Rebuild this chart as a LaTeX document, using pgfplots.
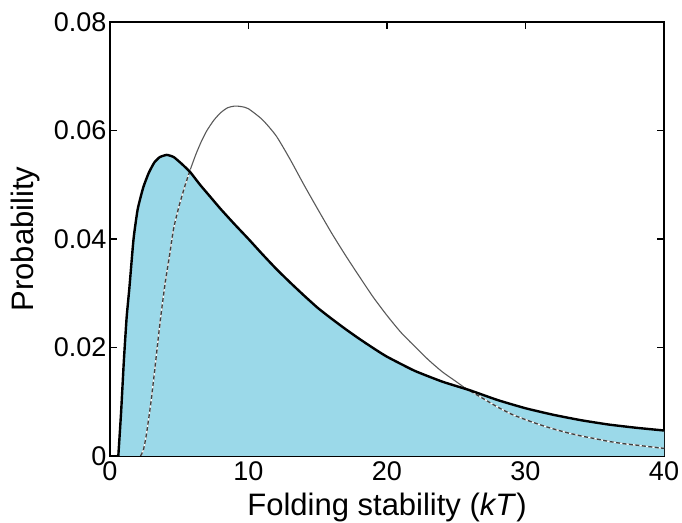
\documentclass[border=0pt]{standalone}
\usepackage{fontspec}
\setmainfont{Liberation Sans}
\usepackage{pgfplots}
\usepackage{pgfplotstable}
\pgfplotsset{compat=1.18}
\definecolor{fillblue}{RGB}{155,217,233}

\pgfplotstableread{
x y
0.6 0
0.8 0.008
1.0 0.0175
1.2 0.0255
1.4 0.0310
1.7 0.0400
2.0 0.0455
2.4 0.0495
2.8 0.0522
3.2 0.0541
3.6 0.0551
4.1 0.0555
4.6 0.0551
5.2 0.0538
5.8 0.0523
6.5 0.0500
7.2 0.0479
8.0 0.0455
9.0 0.0427
10.0 0.0400
11.0 0.0372
12.0 0.0345
13.0 0.0320
14.0 0.0296
15.0 0.0273
16.0 0.0253
17.0 0.0234
18.0 0.0216
19.0 0.0199
20.0 0.0183
22.0 0.0157
24.0 0.0137
26.0 0.0121
28.0 0.0103
30.0 0.0088
32.0 0.0076
34.0 0.0066
36.0 0.0058
38.0 0.0052
40.0 0.0047
}\blackcurve

\pgfplotstableread{
x y
2.2 0
2.4 0.0010
2.6 0.0035
2.8 0.0070
3.0 0.0108
3.2 0.0152
3.4 0.0198
3.6 0.0243
3.8 0.0284
4.0 0.0322
4.3 0.0370
4.6 0.0420
5.0 0.0462
5.4 0.0497
5.8 0.0528
6.2 0.0556
6.6 0.0580
7.0 0.0600
7.5 0.0619
8.0 0.0633
8.5 0.0642
9.0 0.0645
9.5 0.0644
10.0 0.0640
11.0 0.0620
12.0 0.0590
13.0 0.0547
14.0 0.0500
15.0 0.0455
16.0 0.0411
17.0 0.0370
18.0 0.0331
19.0 0.0293
20.0 0.0259
21.0 0.0228
22.0 0.0202
23.0 0.0177
24.0 0.0155
25.0 0.0137
25.6 0.0126
26.0 0.0120
27.0 0.0105
28.0 0.0090
29.0 0.0077
30.0 0.0067
31.0 0.0058
32.0 0.0050
33.0 0.0043
34.0 0.0037
35.0 0.0032
36.0 0.0027
37.0 0.0023
38.0 0.0020
39.0 0.0017
40.0 0.0014
}\graycurve

\begin{document}
\begin{tikzpicture}
\begin{axis}[
  scale only axis, width=554pt, height=434pt,
  xmin=0, xmax=40, ymin=0, ymax=0.08,
  xtick={0,10,20,30,40},
  ytick={0,0.02,0.04,0.06,0.08},
  scaled y ticks=false,
  yticklabel style={/pgf/number format/fixed,/pgf/number format/precision=2},
  xticklabel style={yshift=-2pt},
  /pgf/number format/assume math mode=true,
  tick align=inside,
  major tick length=7pt,
  axis line style={line width=1.5pt},
  every tick/.style={black, line width=1.2pt},
  ticklabel style={font=\fontsize{27}{32}\selectfont},
  label style={font=\fontsize{31}{37}\selectfont},
  xlabel={Folding stability (\textit{kT})},
  ylabel={Probability},
  xlabel style={at={(axis description cs:0.5,-0.136)}, anchor=base},
  ylabel style={at={(axis description cs:-0.153,0.5)}, anchor=center, rotate=0},
  clip=true,
]
\addplot[draw=none, fill=fillblue, smooth, tension=0.3] table {\blackcurve} \closedcycle;
\addplot[color=black!65, line width=1.1pt, smooth, tension=0.4] table {\graycurve};
\addplot[color=white, line width=1.3pt, smooth, tension=0.4, restrict x to domain=2.2:5.8] table {\graycurve};
\addplot[color=black!75, line width=1.3pt, dash pattern=on 4pt off 2.5pt, smooth, tension=0.4, restrict x to domain=2.2:5.8] table {\graycurve};
\addplot[color=white, line width=1.3pt, smooth, tension=0.4, restrict x to domain=25.6:40] table {\graycurve};
\addplot[color=black!75, line width=1.3pt, dash pattern=on 4pt off 2.5pt, smooth, tension=0.4, restrict x to domain=25.6:40] table {\graycurve};
\addplot[color=black, line width=2.4pt, smooth, tension=0.3] table {\blackcurve};
\end{axis}
\pgfresetboundingbox
\path ([xshift=-110pt,yshift=-67pt]current axis.south west) rectangle ([xshift=18pt,yshift=22pt]current axis.north east);
\end{tikzpicture}
\end{document}
